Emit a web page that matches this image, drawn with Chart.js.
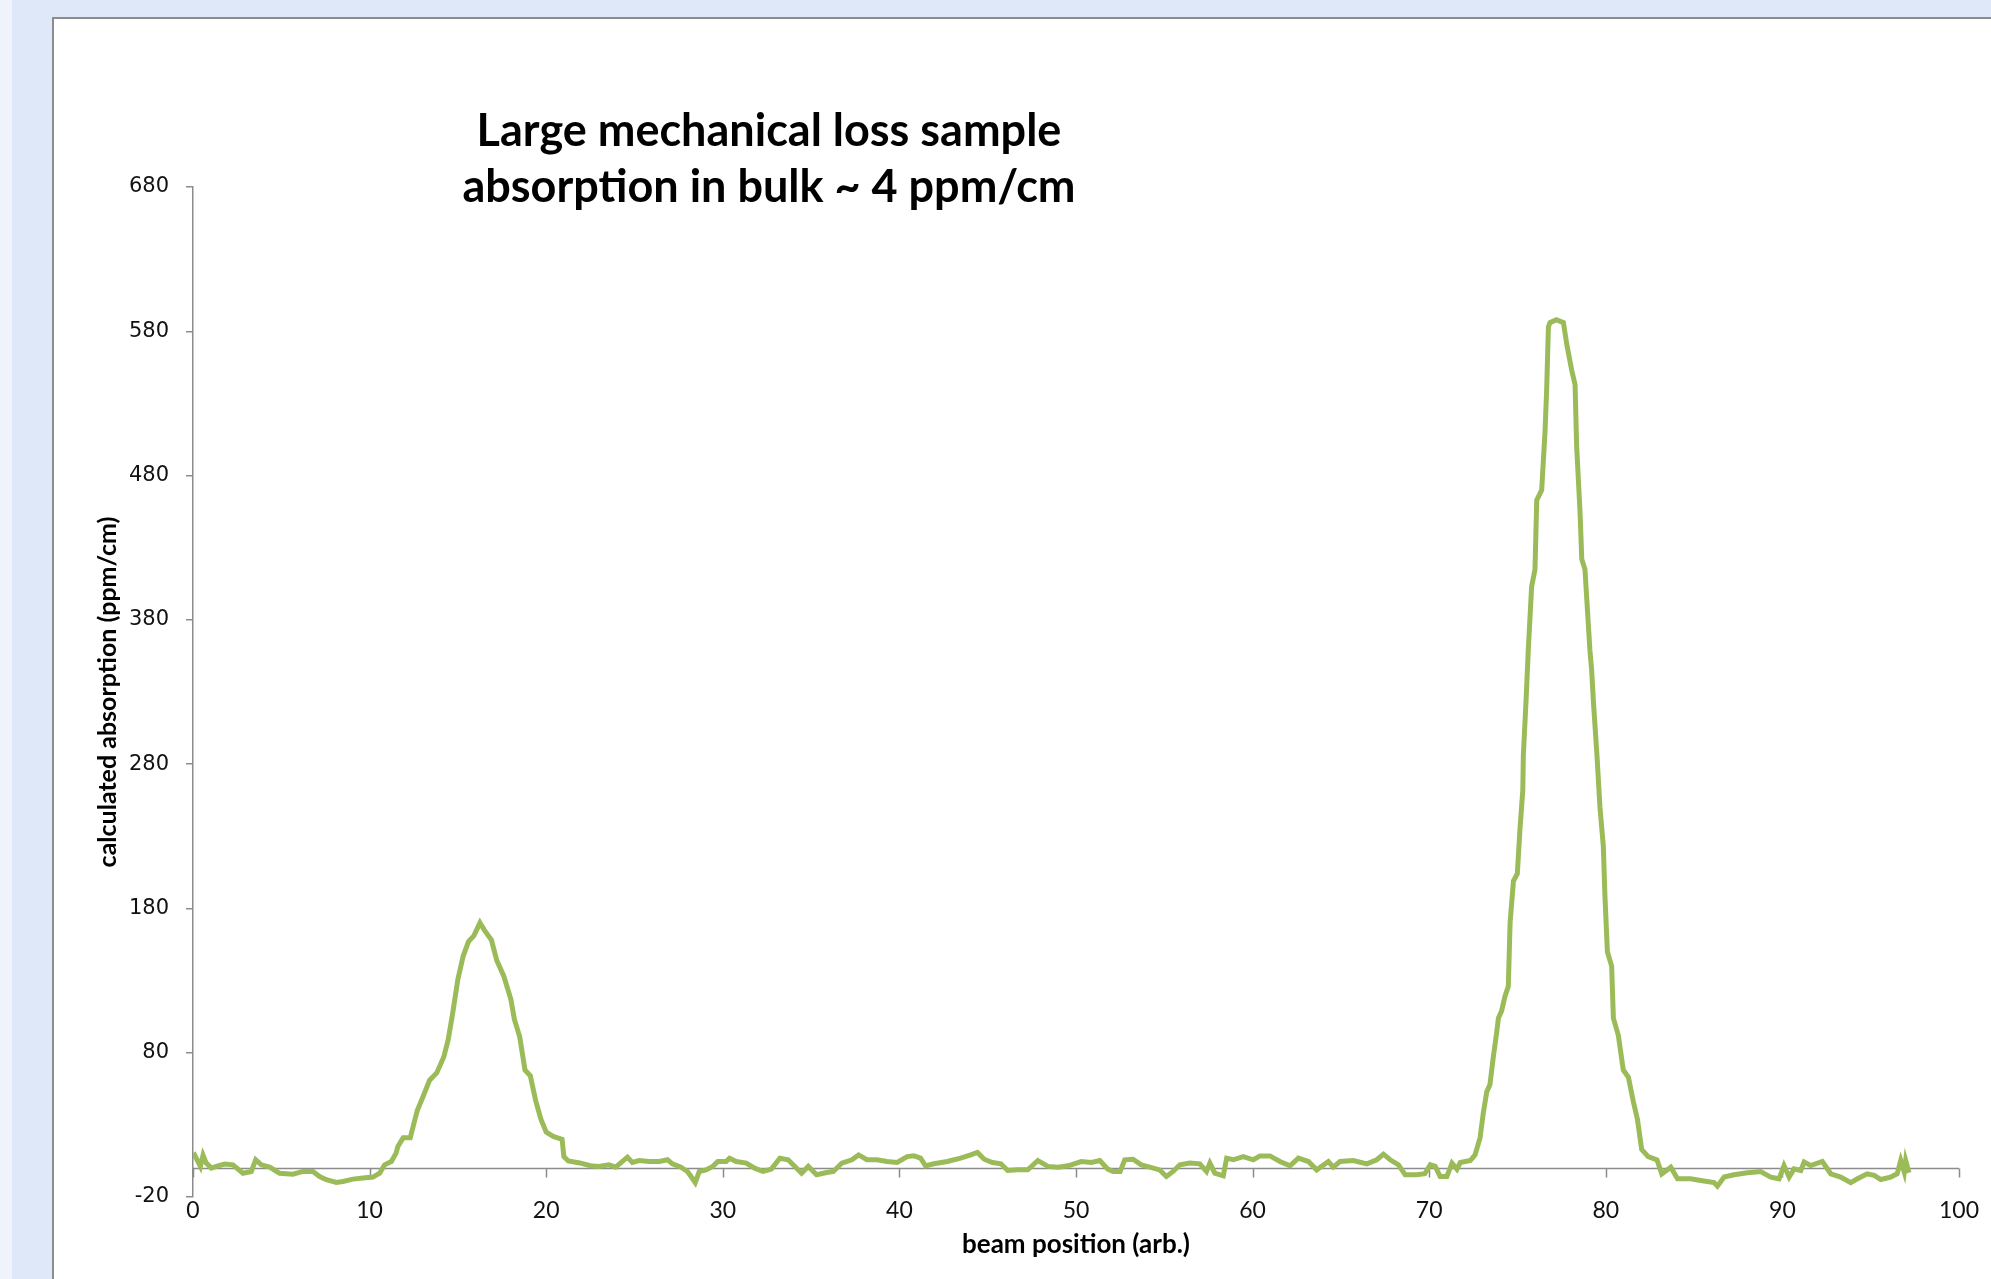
<!DOCTYPE html>
<html>
<head>
<meta charset="utf-8">
<script src="https://cdn.jsdelivr.net/npm/chart.js@4.4.1/dist/chart.umd.min.js"></script>
<style>
  html, body { margin: 0; padding: 0; }
  body { width: 1991px; height: 1279px; background: #dfe8f9; position: relative; overflow: hidden; }
  #strip { position: absolute; left: 0; top: 0; width: 12px; height: 1279px; background: #eef3fc; }
  #panel { position: absolute; left: 52px; top: 17px; width: 1960px; height: 1300px; background: #fff;
           border-left: 2px solid #8c8c8c; border-top: 2px solid #8c8c8c; }
  #wrap { position: absolute; left: 0; top: 0; width: 1991px; height: 1279px; }
</style>
</head>
<body>
<div id="strip"></div>
<div id="panel"></div>
<div id="wrap"><canvas id="chart"></canvas></div>
<script>
// beam position (arb.)
const beamPos = [
  0, 0.1, 0.28, 0.42, 0.57, 0.75, 1.04, 1.32, 1.79, 2.26,
  2.83, 3.3, 3.55, 3.87, 4.34, 4.9, 5.66, 6.23, 6.79, 7.17,
  7.55, 8.11, 8.49, 9.06, 9.62, 10.19, 10.57, 10.85, 11.23, 11.5,
  11.6, 11.9, 12.3, 12.7, 13.04, 13.4, 13.8, 14.2, 14.45, 14.7,
  15.0, 15.3, 15.6, 15.9, 16.25, 16.5, 16.9, 17.2, 17.6, 18.0,
  18.2, 18.5, 18.8, 19.1, 19.4, 19.7, 20.0, 20.4, 20.9, 21.0,
  21.25, 21.9, 22.5, 22.98, 23.55, 23.93, 24.6, 24.88, 25.26, 25.83,
  26.4, 26.87, 27.15, 27.63, 28.0, 28.2, 28.44, 28.67, 29.05, 29.43,
  29.72, 30.19, 30.38, 30.76, 31.33, 31.8, 32.28, 32.75, 33.23, 33.7,
  34.08, 34.46, 34.84, 35.31, 35.88, 36.26, 36.74, 37.31, 37.69, 38.16,
  38.73, 39.3, 39.87, 40.44, 40.82, 41.2, 41.48, 41.95, 42.71, 43.47,
  44.04, 44.42, 44.8, 45.27, 45.75, 46.13, 46.7, 47.27, 47.84, 48.41,
  48.98, 49.55, 50.3, 50.87, 51.35, 51.8, 52.1, 52.5, 52.76, 53.23,
  53.7, 54.18, 54.74, 55.12, 55.5, 55.88, 56.45, 57.01, 57.39, 57.58,
  57.86, 58.34, 58.53, 58.9, 59.47, 60.04, 60.42, 60.98, 61.55, 62.12,
  62.59, 63.16, 63.63, 64.29, 64.57, 64.95, 65.71, 66.47, 67.03, 67.41,
  67.79, 68.26, 68.64, 69.28, 69.75, 70.06, 70.34, 70.62, 71.0, 71.29,
  71.57, 71.76, 72.33, 72.6, 72.88, 73.06, 73.26, 73.44, 73.63, 73.82,
  73.92, 74.1, 74.29, 74.48, 74.58, 74.77, 74.99, 75.14, 75.3, 75.33,
  75.48, 75.61, 75.8, 75.99, 76.09, 76.37, 76.56, 76.65, 76.75, 76.84,
  77.2, 77.6, 77.79, 78.07, 78.26, 78.35, 78.54, 78.64, 78.82, 79.0,
  79.1, 79.2, 79.3, 79.5, 79.67, 79.86, 79.95, 80.09, 80.33, 80.43,
  80.71, 80.99, 81.28, 81.56, 81.79, 82.03, 82.4, 82.9, 83.17, 83.68,
  84.06, 84.8, 85.38, 86.13, 86.32, 86.7, 87.26, 88.02, 88.77, 89.34,
  89.81, 90.09, 90.38, 90.66, 91.04, 91.23, 91.6, 92.26, 92.74, 93.3,
  93.87, 94.25, 94.8, 95.2, 95.57, 96.13, 96.5, 96.7, 96.9, 96.98, 97.17
];

// calculated absorption (ppm/cm)
const absorption = [
  8, 9, 4.6, 1.2, 9, 3.5, 0, 1.2, 2.8, 2.3,
  -3.5, -2.3, 5.8, 2.3, 0.7, -3.5, -4.2, -2.3, -2.3, -5.8,
  -8, -9.9, -9.2, -7.6, -6.9, -6.2, -3.5, 2.3, 4.6, 10.4,
  15, 21, 21, 40, 50, 61, 66, 77, 89, 107,
  131, 147, 157, 161, 170, 165, 158, 144, 133, 117,
  103, 91, 68, 64, 47, 34, 25, 22, 20, 8,
  5, 3.6, 1.7, 1.2, 2.3, 0.7, 7.6, 3.9, 5.3, 4.6,
  4.6, 5.8, 3, 0.7, -2.3, -5.8, -10, -2.3, -1.2, 1.2,
  4.6, 4.6, 6.9, 4.6, 3.5, 0, -2.3, -0.7, 6.9, 5.8,
  1.2, -3.5, 1.2, -4.6, -3, -2.3, 3.5, 5.8, 9.2, 5.8,
  5.8, 4.6, 3.9, 8, 8.5, 6.9, 1.6, 3, 4.6, 6.9,
  9.2, 10.9, 6.2, 3.9, 3, -1.6, -1.2, -1.2, 5.3, 1.2,
  0.7, 1.6, 4.6, 3.9, 5.3, -0.7, -2.3, -2.3, 5.8, 6.2,
  2.3, 0.7, -1.2, -5.8, -2.3, 2.3, 3.5, 3, -2.3, 3.5,
  -3.5, -5.3, 6.9, 5.8, 8, 5.8, 8.5, 8.5, 4.6, 1.6,
  6.9, 4.6, -1.2, 4.6, 0.7, 4.6, 5.3, 3, 5.8, 9.7,
  5.8, 2.3, -4.6, -4.6, -3.9, 2.3, 1.2, -5.8, -5.8, 3.5,
  -0.7, 3.9, 5.3, 9.3, 21, 38, 53, 58, 77, 94,
  104, 109, 119, 126, 170, 199, 204, 235, 262, 286,
  323, 359, 403, 415, 463, 470, 511, 539, 583, 586,
  588, 586, 571, 553, 543, 500, 455, 422, 415, 379,
  359, 345, 323, 286, 250, 223, 189, 150, 140, 104,
  92, 68, 63, 46, 34, 13, 8, 5.7, -4, 0.7,
  -7.4, -7.4, -8.5, -10, -12.5, -6.2, -4.6, -3.2, -2.3, -6.2,
  -7.4, 1.8, -6.2, -0.5, -1.6, 4.2, 1.8, 4.6, -3.9, -6.2,
  -10, -7.4, -3.9, -5, -7.9, -6.2, -3.9, 5.3, -2.8, 5.3, -3.2
];

const xTicks = [0, 10, 20, 30, 40, 50, 60, 70, 80, 90, 100];
const yTicks = [-20, 80, 180, 280, 380, 480, 580, 680];
const titleLines = ['Large mechanical loss sample', 'absorption in bulk ~ 4 ppm/cm'];

const axisGrey = '#8c8c8c';

// chart title, placed left of centre as in the original slide
const titlePlugin = {
  id: 'slideTitle',
  afterDraw(chart) {
    const ctx = chart.ctx;
    ctx.save();
    ctx.font = 'bold 45px Lato';
    ctx.fillStyle = '#000';
    ctx.textAlign = 'center';
    ctx.textBaseline = 'middle';
    ctx.fillText(titleLines[0], 769, 131);
    ctx.fillText(titleLines[1], 769, 187);
    ctx.restore();
  }
};

// horizontal axis crosses at zero, with its tick marks on that line
const zeroLinePlugin = {
  id: 'zeroLine',
  beforeDatasetsDraw(chart) {
    const {ctx, chartArea, scales} = chart;
    const y0 = Math.round(scales.y.getPixelForValue(0)) + 0.5;
    ctx.save();
    ctx.strokeStyle = axisGrey;
    ctx.lineWidth = 1.5;
    ctx.beginPath();
    ctx.moveTo(chartArea.left, y0);
    ctx.lineTo(chartArea.right, y0);
    xTicks.forEach(v => {
      const x = Math.round(scales.x.getPixelForValue(v)) + 0.5;
      ctx.moveTo(x, y0);
      ctx.lineTo(x, y0 + 9);
    });
    ctx.stroke();
    ctx.restore();
  }
};

const ctx = document.getElementById('chart');
new Chart(ctx, {
  type: 'line',
  data: {
    datasets: [{
      data: beamPos.map((x, i) => ({ x: x, y: absorption[i] })),
      borderColor: '#9bbb59',
      borderWidth: 5,
      pointRadius: 0,
      tension: 0,
      fill: false,
    }],
  },
  options: {
    responsive: true,
    maintainAspectRatio: false,
    animation: false,
    layout: {
      padding: { top: 187, right: 32, bottom: 0, left: 0 },
    },
    plugins: {
      legend: { display: false },
      tooltip: { enabled: false },
    },
    scales: {
      x: {
        type: 'linear',
        min: 0,
        max: 100,
        afterBuildTicks: scale => { scale.ticks = xTicks.map(v => ({ value: v })); },
        afterFit: scale => { scale.height = 82; },
        grid: { display: false, drawTicks: false },
        border: { display: false },
        ticks: {
          padding: 0,
          maxRotation: 0,
          autoSkip: false,
          color: '#111',
          font: { family: 'Lato', size: 23 },
        },
        title: {
          display: true,
          text: 'beam position (arb.)',
          color: '#000',
          font: { family: 'Lato', size: 26, weight: 'bold' },
          padding: { top: 0, bottom: 19 },
        },
      },
      y: {
        type: 'linear',
        min: -20,
        max: 680,
        afterBuildTicks: scale => { scale.ticks = yTicks.map(v => ({ value: v })); },
        afterFit: scale => { scale.width = 193; },
        grid: {
          drawOnChartArea: false,
          drawTicks: true,
          tickLength: 7,
          color: axisGrey,
          lineWidth: 1.5,
        },
        border: { display: true, color: axisGrey, width: 1.5 },
        ticks: {
          padding: 17,
          autoSkip: false,
          color: '#111',
          font: { family: 'DejaVu Sans', size: 21 },
        },
        title: {
          display: true,
          text: 'calculated absorption (ppm/cm)',
          color: '#000',
          font: { family: 'Lato', size: 25, weight: 'bold' },
          padding: { top: 93, bottom: 0 },
        },
      },
    },
  },
  plugins: [titlePlugin, zeroLinePlugin],
});
</script>
</body>
</html>
